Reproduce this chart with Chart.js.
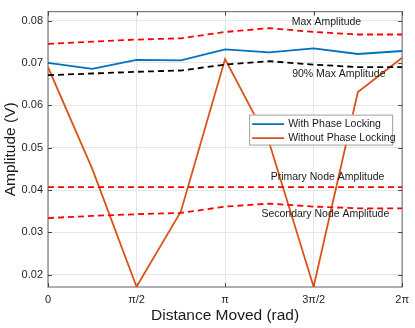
<!DOCTYPE html>
<html>
<head>
<meta charset="utf-8">
<script src="https://cdn.jsdelivr.net/npm/chart.js@4/dist/chart.umd.min.js"></script>
<style>
  html, body { margin: 0; padding: 0; background: #fff; }
  #wrap { width: 415px; height: 328px; }
</style>
</head>
<body>
<div id="wrap"><canvas id="c" width="415" height="328"></canvas></div>
<script>
// ---- data ----
const xPiFractions = [0, 0.25, 0.5, 0.75, 1, 1.25, 1.5, 1.75, 2];
const withPhaseLocking = [0.0700, 0.0686, 0.0707, 0.0706, 0.0732, 0.0725, 0.0734, 0.0721, 0.0728];
const withoutPhaseLocking = [0.0690, 0.0450, 0.0172, 0.0349, 0.0709, 0.0511, 0.0172, 0.0631, 0.0712];
const maxAmplitude = [0.0745, 0.0750, 0.0755, 0.0758, 0.0773, 0.0782, 0.0773, 0.0767, 0.0767];
const ninetyMaxAmplitude = [0.0671, 0.0675, 0.0679, 0.0682, 0.0696, 0.0704, 0.0696, 0.0690, 0.0690];
const primaryNodeAmplitude = [0.0407, 0.0407, 0.0407, 0.0407, 0.0407, 0.0407, 0.0407, 0.0407, 0.0407];
const secondaryNodeAmplitude = [0.0334, 0.0339, 0.0343, 0.0346, 0.0361, 0.0368, 0.0361, 0.0357, 0.0357];
const xTickPiFractions = [0, 0.5, 1, 1.5, 2];
const xTickLabels = ['0', 'π/2', 'π', '3π/2', '2π'];
const yTickValues = [0.02, 0.03, 0.04, 0.05, 0.06, 0.07, 0.08];
const yTickLabels = ['0.02', '0.03', '0.04', '0.05', '0.06', '0.07', '0.08'];
const legendLabels = ['With Phase Locking', 'Without Phase Locking'];
const annotations = [
  { text: 'Max Amplitude', x: 4.94, y: 0.0796 },
  { text: '90% Max Amplitude', x: 5.16, y: 0.0673 },
  { text: 'Primary Node Amplitude', x: 4.96, y: 0.0430 },
  { text: 'Secondary Node Amplitude', x: 4.92, y: 0.0344 }
];
const xTitle = 'Distance Moved (rad)';
const yTitle = 'Amplitude (V)';

const FONT = '"Liberation Sans", Arial, Helvetica, sans-serif';
const pts = arr => arr.map((v, i) => ({ x: xPiFractions[i] * Math.PI, y: v }));

const BLUE = '#0072BD', ORANGE = '#D95319';

const decor = {
  id: 'decor',
  beforeDatasetsDraw(chart) {
    const { ctx, chartArea: a, scales } = chart;
    ctx.save();
    ctx.strokeStyle = '#7a7a7a';
    ctx.lineWidth = 1.2;
    ctx.strokeRect(a.left, a.top, a.right - a.left, a.bottom - a.top);
    ctx.strokeStyle = '#444';
    ctx.lineWidth = 1;
    ctx.beginPath();
    xTickPiFractions.forEach(f => {
      const px = Math.round(scales.x.getPixelForValue(f * Math.PI)) + 0.5;
      ctx.moveTo(px, a.bottom); ctx.lineTo(px, a.bottom - 4);
      ctx.moveTo(px, a.top); ctx.lineTo(px, a.top + 4);
    });
    yTickValues.forEach(v => {
      const py = Math.round(scales.y.getPixelForValue(v)) + 0.5;
      ctx.moveTo(a.left, py); ctx.lineTo(a.left + 4, py);
      ctx.moveTo(a.right, py); ctx.lineTo(a.right - 4, py);
    });
    ctx.stroke();
    ctx.restore();
  },
  afterDatasetsDraw(chart) {
    const { ctx, chartArea: a, scales } = chart;
    ctx.save();
    ctx.fillStyle = '#1a1a1a';
    ctx.font = '10.5px ' + FONT;
    ctx.textAlign = 'center';
    ctx.textBaseline = 'middle';
    annotations.forEach(t => {
      ctx.fillText(t.text, scales.x.getPixelForValue(t.x), scales.y.getPixelForValue(t.y));
    });
    const lw = 143, lh = 30;
    const lx = a.right - 10 - lw, ly = a.top + 103;
    ctx.fillStyle = '#fff';
    ctx.fillRect(lx, ly, lw, lh);
    ctx.strokeStyle = '#a0a0a0';
    ctx.lineWidth = 1;
    ctx.strokeRect(lx + 0.5, ly + 0.5, lw, lh);
    const cols = [BLUE, ORANGE];
    ctx.font = '10.5px ' + FONT;
    ctx.textAlign = 'left';
    legendLabels.forEach((lab, i) => {
      const yy = ly + 9.5 + i * 14;
      ctx.strokeStyle = cols[i];
      ctx.lineWidth = 1.8;
      ctx.beginPath();
      ctx.moveTo(lx + 3, yy); ctx.lineTo(lx + 35, yy);
      ctx.stroke();
      ctx.fillStyle = '#1a1a1a';
      ctx.fillText(lab, lx + 39, yy + 0.5);
    });
    ctx.fillStyle = '#1a1a1a';
    ctx.font = '15.5px ' + FONT;
    ctx.textAlign = 'center';
    ctx.textBaseline = 'middle';
    ctx.fillText(xTitle, (a.left + a.right) / 2, 316);
    ctx.translate(11, (a.top + a.bottom) / 2);
    ctx.rotate(-Math.PI / 2);
    ctx.fillText(yTitle, 0, 0);
    ctx.restore();
  }
};

new Chart(document.getElementById('c'), {
  type: 'line',
  data: {
    datasets: [
      { label: 'maxAmp', data: pts(maxAmplitude), borderColor: '#FF0000', borderDash: [6, 4], borderWidth: 1.8 },
      { label: 'ninety', data: pts(ninetyMaxAmplitude), borderColor: '#000000', borderDash: [6, 4], borderWidth: 1.8 },
      { label: 'primary', data: pts(primaryNodeAmplitude), borderColor: '#FF0000', borderDash: [6, 4], borderWidth: 1.8 },
      { label: 'secondary', data: pts(secondaryNodeAmplitude), borderColor: '#FF0000', borderDash: [6, 4], borderWidth: 1.8 },
      { label: legendLabels[0], data: pts(withPhaseLocking), borderColor: BLUE, borderWidth: 1.8 },
      { label: legendLabels[1], data: pts(withoutPhaseLocking), borderColor: ORANGE, borderWidth: 1.8 }
    ]
  },
  options: {
    responsive: false,
    animation: false,
    devicePixelRatio: 1,
    elements: { point: { radius: 0 }, line: { tension: 0, fill: false } },
    layout: { padding: { left: 0, top: 6, right: 9, bottom: 0 } },
    plugins: { legend: { display: false }, tooltip: { enabled: false } },
    scales: {
      x: {
        type: 'linear',
        min: 0,
        max: 2 * Math.PI,
        afterBuildTicks: s => { s.ticks = xTickPiFractions.map(f => ({ value: f * Math.PI })); },
        afterFit: s => { s.height = 41; },
        ticks: {
          autoSkip: false,
          maxRotation: 0,
          padding: 6,
          color: '#262626',
          font: { family: FONT, size: 11 },
          callback: (v, i) => xTickLabels[i]
        },
        grid: { color: '#e6e6e6', drawTicks: false },
        border: { display: false }
      },
      y: {
        type: 'linear',
        min: 0.01713,
        max: 0.0821,
        afterBuildTicks: s => { s.ticks = yTickValues.map(v => ({ value: v })); },
        afterFit: s => { s.width = 48; },
        ticks: {
          autoSkip: false,
          padding: 5,
          color: '#262626',
          font: { family: FONT, size: 11 },
          callback: (v, i) => yTickLabels[i]
        },
        grid: { color: '#e6e6e6', drawTicks: false },
        border: { display: false }
      }
    }
  },
  plugins: [decor]
});
</script>
</body>
</html>
